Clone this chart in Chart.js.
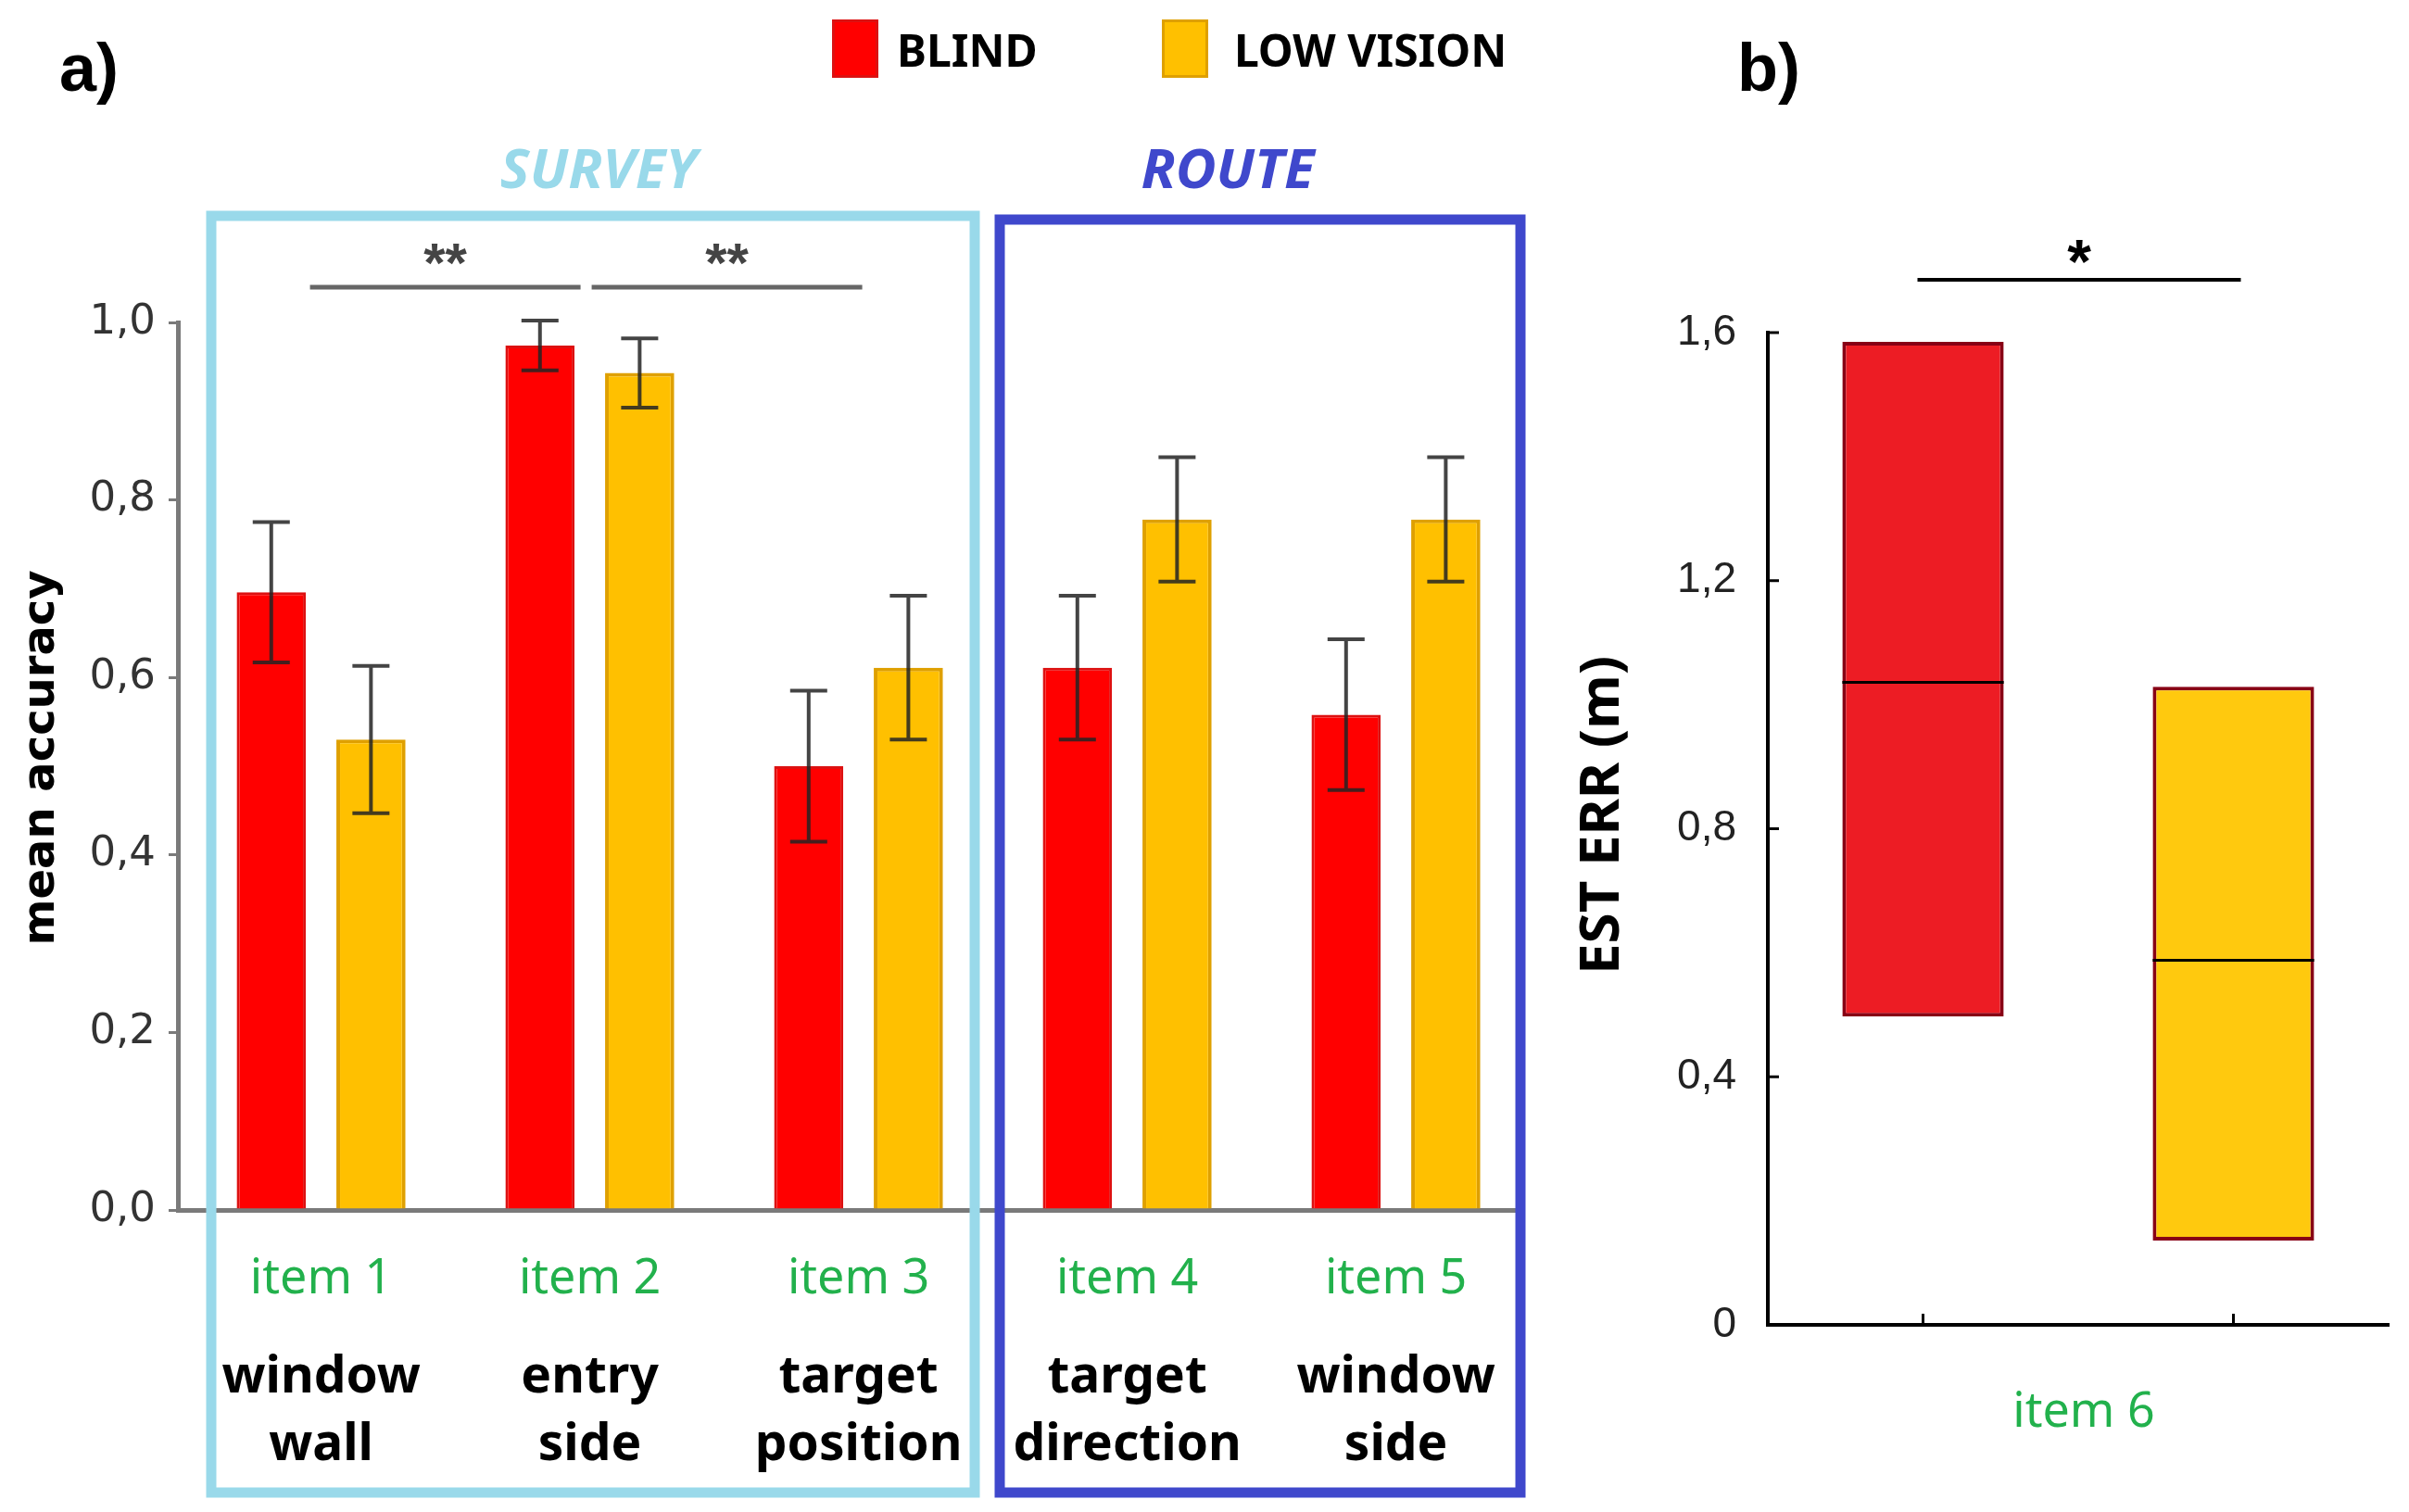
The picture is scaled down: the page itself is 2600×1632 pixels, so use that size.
<!DOCTYPE html>
<html>
<head>
<meta charset="utf-8">
<script src="https://cdn.jsdelivr.net/npm/chart.js@4.4.1/dist/chart.umd.min.js"></script>
<style>
  body { margin: 0; background: #fff; width: 2600px; height: 1632px; position: relative; overflow: hidden; }
  #accuracy { position: absolute; left: 0; top: 0; }
  #esterr { position: absolute; left: 1700px; top: 0; }
</style>
</head>
<body>
<canvas id="accuracy" width="1700" height="1632"></canvas>
<canvas id="esterr" width="900" height="1632"></canvas>
<script>
// a) mean accuracy per item
var groups = ['BLIND', 'LOW VISION'];
var items = ['item 1', 'item 2', 'item 3', 'item 4', 'item 5'];
var tasks = [['window', 'wall'], ['entry', 'side'], ['target', 'position'], ['target', 'direction'], ['window', 'side']];
var itemPos = [1, 2, 3, 4, 5];
var blindAcc = [0.696, 0.974, 0.500, 0.611, 0.558];
var blindErr = [0.079, 0.028, 0.085, 0.081, 0.085];
var lowAcc = [0.530, 0.943, 0.611, 0.778, 0.778];
var lowErr = [0.083, 0.039, 0.081, 0.070, 0.070];
var accTicks = [0, 0.2, 0.4, 0.6, 0.8, 1.0];
var sigPairs = [[1, 2, '**'], [2, 3, '**']];

// b) estimation error, item 6
var item6 = 'item 6';
var estRange = [[0.497, 1.585], [0.136, 1.029]];
var estMedian = [1.036, 0.588];
var estTicks = [0, 0.4, 0.8, 1.2, 1.6];

var GREEN = '#22b14c';

function comma(v) {
  return v === 0 ? '0' : v.toFixed(1).replace('.', ',');
}

var accDecor = {
  id: 'accDecor',
  afterDatasetsDraw: function (chart) {
    var ctx = chart.ctx, ys = chart.scales.y;
    var errs = [blindErr, lowErr], vals = [blindAcc, lowAcc];
    ctx.save();
    ctx.strokeStyle = 'rgba(35,35,35,0.85)';
    ctx.lineWidth = 4;
    for (var d = 0; d < 2; d++) {
      chart.getDatasetMeta(d).data.forEach(function (bar, i) {
        var top = ys.getPixelForValue(vals[d][i] + errs[d][i]);
        var bot = ys.getPixelForValue(vals[d][i] - errs[d][i]);
        ctx.beginPath();
        ctx.moveTo(bar.x, top); ctx.lineTo(bar.x, bot);
        ctx.moveTo(bar.x - 20, top); ctx.lineTo(bar.x + 20, top);
        ctx.moveTo(bar.x - 20, bot); ctx.lineTo(bar.x + 20, bot);
        ctx.stroke();
      });
    }
    ctx.restore();
  },
  afterDraw: function (chart) {
    var ctx = chart.ctx, xs = chart.scales.x;
    ctx.save();
    ctx.textBaseline = 'alphabetic';

    // category labels
    ctx.textAlign = 'center';
    items.forEach(function (t, i) {
      var x = xs.getPixelForValue(itemPos[i]);
      ctx.fillStyle = GREEN;
      ctx.font = '52px "Noto Sans"';
      ctx.fillText(t, x, 1396);
      ctx.fillStyle = '#000';
      ctx.font = 'bold 55px "Noto Sans"';
      ctx.fillText(tasks[i][0], x, 1503);
      ctx.fillText(tasks[i][1], x, 1576);
    });

    // survey / route frames
    ctx.lineWidth = 11;
    ctx.strokeStyle = '#99d9ea';
    ctx.strokeRect(228, 233, 824, 1378);
    ctx.strokeStyle = '#3f48cc';
    ctx.strokeRect(1079, 237, 562, 1374);

    ctx.font = 'italic bold 60px "Noto Sans"';
    ctx.fillStyle = '#99d9ea';
    ctx.fillText('SURVEY', 646, 203);
    ctx.fillStyle = '#3f48cc';
    ctx.fillText('ROUTE', 1325, 203);

    // significance
    sigPairs.forEach(function (p, k) {
      var x0 = xs.getPixelForValue(p[0]) + (k === 0 ? -12 : 2);
      var x1 = xs.getPixelForValue(p[1]) + (k === 0 ? -10 : 4);
      ctx.strokeStyle = '#666';
      ctx.lineWidth = 5;
      ctx.beginPath(); ctx.moveTo(x0, 310); ctx.lineTo(x1, 310); ctx.stroke();
      ctx.fillStyle = '#444';
      ctx.font = 'bold 60px "Liberation Sans"';
      ctx.fillText(p[2], (x0 + x1) / 2, 304);
    });

    // legend
    var lx = [[898, 968], [1254, 1332]];
    chart.data.datasets.forEach(function (ds, i) {
      ctx.fillStyle = ds.backgroundColor;
      ctx.fillRect(lx[i][0], 21, 50, 63);
      ctx.strokeStyle = ds.borderColor;
      ctx.lineWidth = 3;
      ctx.strokeRect(lx[i][0] + 1.5, 22.5, 47, 60);
      ctx.fillStyle = '#000';
      ctx.textAlign = 'left';
      ctx.font = 'bold 48px "Noto Sans"';
      ctx.fillText(ds.label, lx[i][1], 72);
    });

    ctx.font = 'bold 72px "Liberation Sans"';
    ctx.fillText('a)', 64, 98);

    // y title
    ctx.translate(46, 818);
    ctx.rotate(-Math.PI / 2);
    ctx.textAlign = 'center';
    ctx.textBaseline = 'middle';
    ctx.font = 'bold 48px "DejaVu Sans"';
    ctx.fillText('mean accuracy', 0, 0);
    ctx.restore();
  }
};

new Chart(document.getElementById('accuracy'), {
  type: 'bar',
  data: {
    datasets: [{
      label: groups[0],
      data: blindAcc.map(function (v, i) { return { x: itemPos[i], y: v }; }),
      backgroundColor: '#ff0000',
      borderColor: '#dd1111',
      borderWidth: 3,
      categoryPercentage: 0.742,
      barPercentage: 0.694
    }, {
      label: groups[1],
      data: lowAcc.map(function (v, i) { return { x: itemPos[i], y: v }; }),
      backgroundColor: '#ffc000',
      borderColor: '#dfa000',
      borderWidth: 4,
      categoryPercentage: 0.742,
      barPercentage: 0.694
    }]
  },
  options: {
    responsive: false,
    animation: false,
    devicePixelRatio: 1,
    layout: { padding: { top: 348, bottom: 326, left: 0, right: 60 } },
    plugins: { legend: { display: false }, tooltip: { enabled: false } },
    scales: {
      x: {
        type: 'linear', min: 0.467, max: 5.46, offset: false,
        afterBuildTicks: function (s) { s.ticks = itemPos.map(function (v) { return { value: v }; }); },
        ticks: { display: false },
        grid: { display: false },
        border: { display: true, color: '#7a7a7a', width: 5 },
        afterFit: function (s) { s.height = 0; }
      },
      y: {
        min: 0, max: 1,
        afterBuildTicks: function (s) { s.ticks = accTicks.map(function (v) { return { value: v }; }); },
        ticks: {
          callback: function (v) { return comma(v) === '0' ? '0,0' : comma(v); },
          font: { family: 'DejaVu Sans', size: 45 },
          color: '#333',
          padding: 14
        },
        grid: { drawOnChartArea: false, drawTicks: true, tickLength: 10, color: '#7a7a7a', lineWidth: 3 },
        border: { color: '#7a7a7a', width: 5 },
        afterFit: function (s) { s.width = 192; }
      }
    }
  },
  plugins: [accDecor]
});

var estDecor = {
  id: 'estDecor',
  afterDraw: function (chart) {
    var ctx = chart.ctx, xs = chart.scales.x, ys = chart.scales.y, area = chart.chartArea;
    ctx.save();
    // medians
    ctx.strokeStyle = '#000';
    ctx.lineWidth = 3;
    chart.getDatasetMeta(0).data.forEach(function (box, i) {
      var y = ys.getPixelForValue(estMedian[i]);
      ctx.beginPath();
      ctx.moveTo(box.x - box.width / 2, y);
      ctx.lineTo(box.x + box.width / 2, y);
      ctx.stroke();
    });
    // inward tick marks
    groups.forEach(function (g, i) {
      var x = xs.getPixelForValue(i);
      ctx.beginPath(); ctx.moveTo(x, area.bottom); ctx.lineTo(x, area.bottom - 12); ctx.stroke();
    });
    estTicks.forEach(function (v) {
      var y = ys.getPixelForValue(v);
      ctx.beginPath(); ctx.moveTo(area.left, y); ctx.lineTo(area.left + 12, y); ctx.stroke();
    });
    // significance
    var x0 = xs.getPixelForValue(0) - 6, x1 = xs.getPixelForValue(1) + 8;
    ctx.lineWidth = 4;
    ctx.beginPath(); ctx.moveTo(x0, 302); ctx.lineTo(x1, 302); ctx.stroke();
    ctx.fillStyle = '#000';
    ctx.textAlign = 'center';
    ctx.font = 'bold 66px "Liberation Sans"';
    ctx.fillText('*', (x0 + x1) / 2, 305);

    ctx.fillStyle = GREEN;
    ctx.font = '52px "Noto Sans"';
    ctx.fillText(item6, (area.left + area.right) / 2 + 6, 1540);

    ctx.fillStyle = '#000';
    ctx.textAlign = 'left';
    ctx.font = 'bold 72px "Liberation Sans"';
    ctx.fillText('b)', 175, 98);

    ctx.translate(30, 880);
    ctx.rotate(-Math.PI / 2);
    ctx.textAlign = 'center';
    ctx.textBaseline = 'middle';
    ctx.font = 'bold 60px "Noto Sans"';
    ctx.fillText('EST ERR (m)', 0, 0);
    ctx.restore();
  }
};

new Chart(document.getElementById('esterr'), {
  type: 'bar',
  data: {
    labels: groups,
    datasets: [{
      label: item6,
      data: estRange,
      backgroundColor: ['#ed1c24', '#ffc90e'],
      borderColor: '#880015',
      borderWidth: 4,
      borderSkipped: false,
      categoryPercentage: 1,
      barPercentage: 0.52
    }]
  },
  options: {
    responsive: false,
    animation: false,
    devicePixelRatio: 1,
    layout: { padding: { top: 359, bottom: 202, left: 0, right: 22 } },
    plugins: { legend: { display: false }, tooltip: { enabled: false } },
    scales: {
      x: {
        ticks: { display: false },
        grid: { display: false },
        border: { color: '#000', width: 4 },
        afterFit: function (s) { s.height = 0; }
      },
      y: {
        min: 0, max: 1.6,
        afterBuildTicks: function (s) { s.ticks = estTicks.map(function (v) { return { value: v }; }); },
        ticks: {
          callback: function (v) { return comma(v); },
          font: { family: 'Liberation Sans', size: 46 },
          color: '#222',
          padding: 34
        },
        grid: { display: false, drawTicks: false },
        border: { color: '#000', width: 4 },
        afterFit: function (s) { s.width = 208; }
      }
    }
  },
  plugins: [estDecor]
});
</script>
</body>
</html>
